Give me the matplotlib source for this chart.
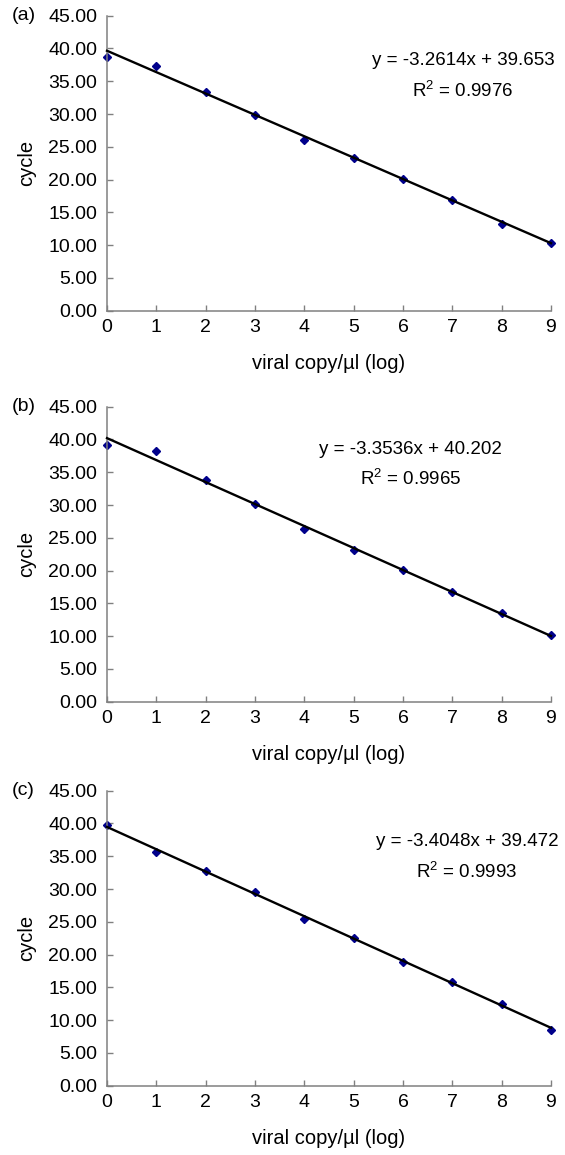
import matplotlib
matplotlib.use("Agg")
import matplotlib.pyplot as plt
import numpy as np

# --- 1. Data ---
X_LOG = [0, 1, 2, 3, 4, 5, 6, 7, 8, 9]
CYCLE_A = [38.7, 37.4, 33.4, 29.9, 26.1, 23.3, 20.1, 16.9, 13.3, 10.3]
CYCLE_B = [39.1, 38.2, 33.8, 30.2, 26.4, 23.1, 20.1, 16.8, 13.5, 10.1]
CYCLE_C = [39.8, 35.7, 32.7, 29.5, 25.5, 22.5, 18.9, 15.8, 12.5, 8.5]

SLOPES = [-3.2614, -3.3536, -3.4048]
INTERCEPTS = [39.653, 40.202, 39.472]
R2_VALUES = ["0.9976", "0.9965", "0.9993"]
PANEL_LABELS = ["(a)", "(b)", "(c)"]
Y_TICKS = [0, 5, 10, 15, 20, 25, 30, 35, 40, 45]

# --- 2. Style ---
plt.rcParams['font.family'] = ['Liberation Sans', 'DejaVu Sans']
plt.rcParams['mathtext.fontset'] = 'custom'
plt.rcParams['mathtext.rm'] = 'Liberation Sans'
plt.rcParams['mathtext.it'] = 'Liberation Sans'
plt.rcParams['mathtext.bf'] = 'Liberation Sans'

AXIS_GREY = '#808080'
MARKER_BLUE = '#00008B'

fig = plt.figure(figsize=(5.65, 11.55), dpi=100)

# axes boxes (left, bottom, width, height) and equation positions in data coords
boxes = [(0.1894, 0.7310, 0.7858, 0.2554),
         (0.1894, 0.3925, 0.7858, 0.2554),
         (0.1894, 0.0600, 0.7858, 0.2554)]
eq_pos = [(7.22, 38.1, 33.5), (6.15, 38.4, 33.9), (7.30, 37.2, 32.6)]

series = [CYCLE_A, CYCLE_B, CYCLE_C]

for i, box in enumerate(boxes):
    ax = fig.add_axes(box)

    # trendline from the fitted equation
    xs = np.array([X_LOG[0], X_LOG[-1]])
    ax.plot(xs, SLOPES[i] * xs + INTERCEPTS[i], color='black', lw=1.7,
            zorder=3, clip_on=False)
    ax.plot(X_LOG, series[i], linestyle='none', marker='D', ms=4.4,
            color=MARKER_BLUE, zorder=2, clip_on=False)

    ax.set_xlim(0, 9)
    ax.set_ylim(0, 45)
    ax.set_xticks(X_LOG)
    ax.set_yticks(Y_TICKS)
    ax.set_yticklabels([f"{v:.2f}" for v in Y_TICKS])

    for side in ['top', 'right']:
        ax.spines[side].set_visible(False)
    for side in ['left', 'bottom']:
        ax.spines[side].set_color(AXIS_GREY)
        ax.spines[side].set_linewidth(1.1)
    ax.tick_params(direction='in', length=4, width=1.0, color=AXIS_GREY,
                   labelsize=14, labelcolor='black')
    ax.tick_params(axis='y', pad=7)
    ax.tick_params(axis='x', pad=6)

    ax.set_xlabel('viral copy/\u00b5l (log)', fontsize=14.5, labelpad=13)
    ax.set_ylabel('cycle', fontsize=14.5, labelpad=9)

    ex, ey, ry = eq_pos[i]
    sign = '-' if SLOPES[i] < 0 else ''
    ax.text(ex, ey, f"y = {sign}{abs(SLOPES[i]):.4f}x + {INTERCEPTS[i]:.3f}",
            ha='center', va='center', fontsize=13.5)
    ax.text(ex, ry, f"R$^\\mathregular{{2}}$ = {R2_VALUES[i]}",
            ha='center', va='center', fontsize=13.5)

    # panel label at the far left, level with the top tick label
    top = box[1] + box[3]
    fig.text(12 / 565, top, PANEL_LABELS[i], ha='left', va='center',
             fontsize=14)

fig.savefig('out.png', dpi=100)
plt.close(fig)
